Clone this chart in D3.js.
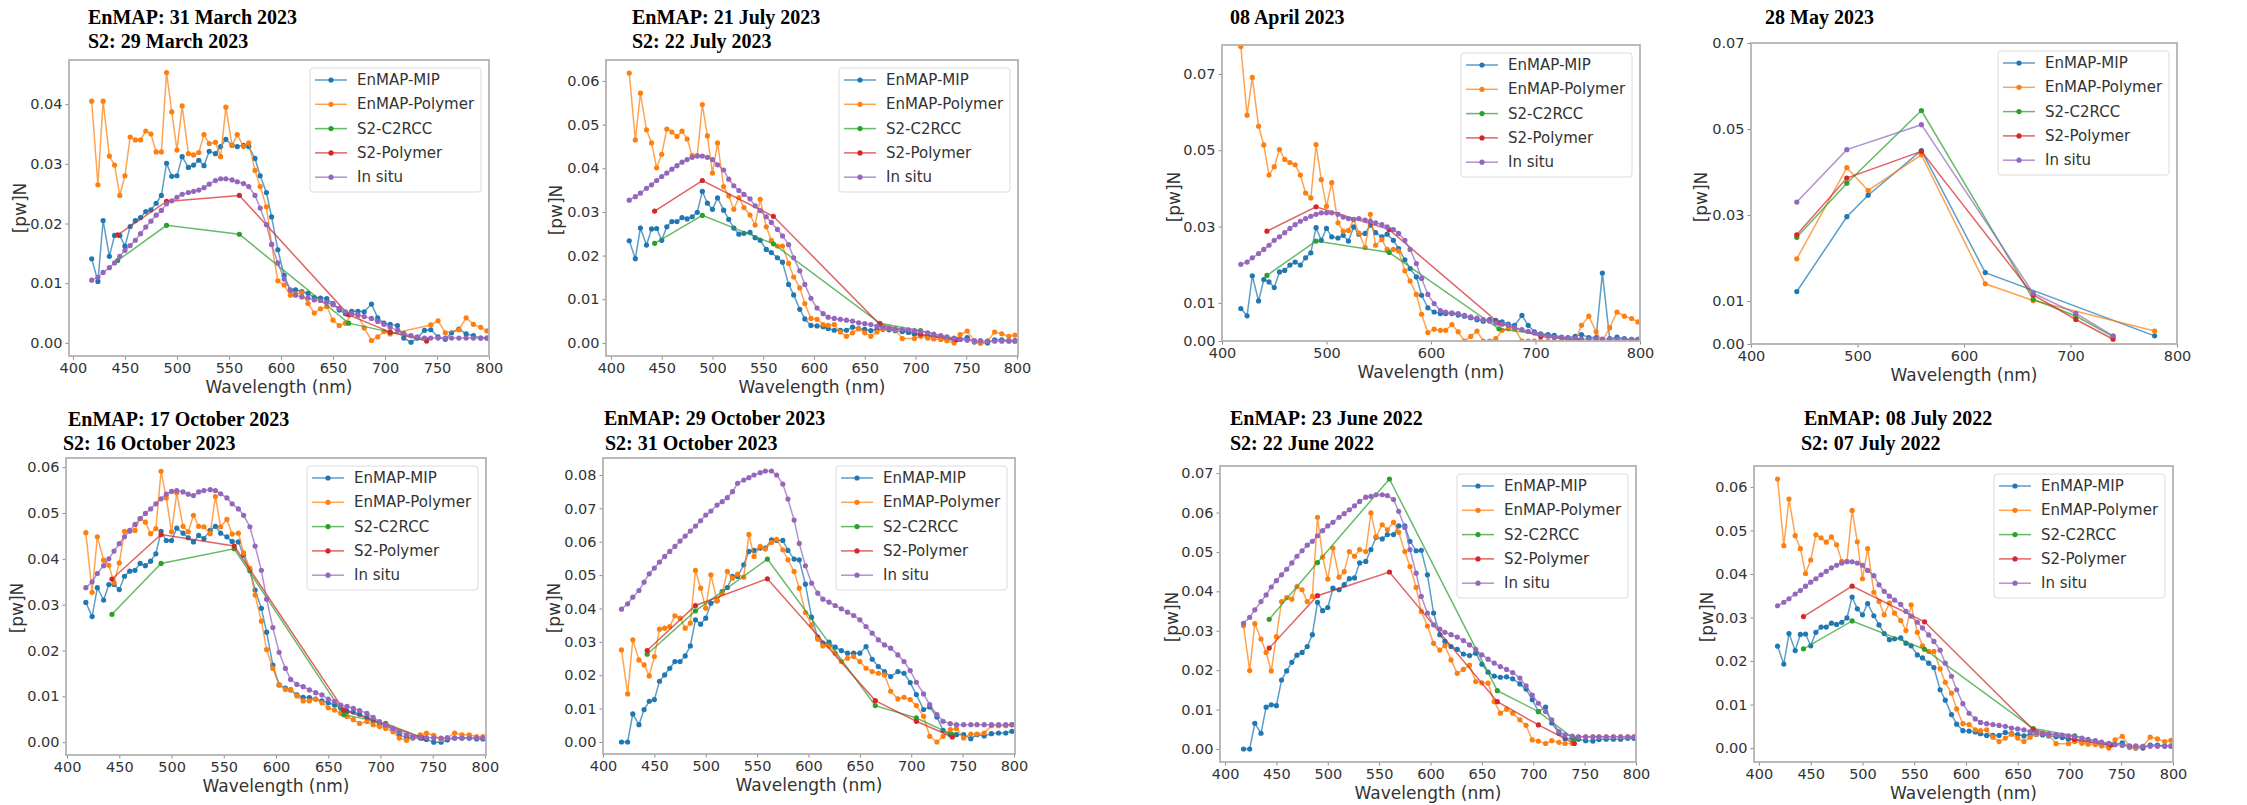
<!DOCTYPE html>
<html>
<head>
<meta charset="utf-8">
<title>Normalised water-leaving reflectance spectra</title>
<style>
    body { margin: 0; background: #fff; }
    svg { display: block; }
    .tick text { font-family: "DejaVu Sans", sans-serif; font-size: 14.5px; fill: #333; }
    .tick line { stroke: #8a8a8a; }
    .title { font-family: "Liberation Serif", serif; font-weight: bold; font-size: 20px; fill: #000; }
    .axis-label { font-family: "DejaVu Sans", sans-serif; font-size: 17px; fill: #333; }
    .legend text { font-family: "DejaVu Sans", sans-serif; font-size: 15px; fill: #333; }
</style>
</head>
<body>
<script src="https://cdn.jsdelivr.net/npm/d3@7"></script>
<script>
// band centres (nm)
var enmapWl = [418, 424, 429, 435, 440, 445, 450, 455, 460, 465,
    470, 475, 480, 485, 490, 495, 500, 505, 511, 516,
    521, 526, 531, 537, 542, 547, 553, 558, 564, 569,
    575, 580, 586, 591, 597, 603, 609, 614, 620, 626,
    632, 638, 644, 650, 656, 662, 668, 674, 680, 687,
    693, 699, 705, 712, 718, 725, 731, 738, 744, 751,
    758, 764, 771, 778, 785, 792, 798]
var s2Wl = [443, 490, 560, 665, 705, 740]
var olciWl = [443, 490, 510, 560, 620, 665, 779]

var seriesNames = ["EnMAP-MIP", "EnMAP-Polymer", "S2-C2RCC", "S2-Polymer", "In situ"]
var seriesColors = ["#1f77b4", "#ff7f0e", "#2ca02c", "#d62728", "#9467bd"]

var xTicks50 = [400, 450, 500, 550, 600, 650, 700, 750, 800]
var xTicks100 = [400, 500, 600, 700, 800]
var yTicks04 = [0, 0.01, 0.02, 0.03, 0.04]
var yTicks06 = [0, 0.01, 0.02, 0.03, 0.04, 0.05, 0.06]
var yTicks07 = [0, 0.01, 0.02, 0.03, 0.04, 0.05, 0.06, 0.07]
var yTicks08 = [0, 0.01, 0.02, 0.03, 0.04, 0.05, 0.06, 0.07, 0.08]
var yTicksOdd = [0, 0.01, 0.03, 0.05, 0.07]

// 31 March 2023
var mar31Mip = [.0141, .0103, .0205, .0145, .0180, .0180, .0162, .0195, .0205, .0210,
    .0220, .0223, .0234, .0247, .0301, .0279, .0280, .0312, .0294, .0298,
    .0306, .0297, .0321, .0317, .0329, .0341, .0331, .0329, .0331, .0329,
    .0309, .0280, .0252, .0211, .0156, .0113, .0088, .0089, .0086, .0083,
    .0076, .0075, .0074, .0066, .0055, .0049, .0053, .0053, .0052, .0065,
    .0042, .0033, .0031, .0029, .0008, .0001, .0008, .0021, .0022, .0010,
    .0006, .0017, .0023, .0015, .0012, .0008, .0008]
var mar31Polymer = [.0405, .0265, .0405, .0313, .0298, .0247, .0280, .0345, .0340, .0340,
    .0355, .0350, .0320, .0320, .0453, .0387, .0323, .0397, .0317, .0315,
    .0319, .0349, .0334, .0336, .0312, .0395, .0331, .0349, .0329, .0335,
    .0289, .0262, .0228, .0165, .0104, .0097, .0080, .0082, .0084, .0066,
    .0050, .0057, .0061, .0038, .0029, .0033, .0048, .0046, .0025, .0004,
    .0010, .0019, .0015, null, null, null, null, null, .0030, .0037,
    .0017, null, .0022, .0042, .0031, .0026, .0020]
var mar31C2rcc = [.0138, .0197, .0182, .0033, .0018, .0005]
var mar31S2Polymer = [.0181, .0237, .0247, .0047, .0018, .0003]
var mar31InSitu = [.0105, .0110, .0118, .0126, .0134, .0145, .0155, .0163, .0172, .0183,
    .0194, .0204, .0214, .0222, .0233, .0238, .0244, .0249, .0252, .0254,
    .0256, .0260, .0266, .0272, .0275, .0275, .0273, .0270, .0267, .0262,
    .0247, .0226, .0198, .0165, .0134, .0107, .0089, .0080, .0077, .0075,
    .0072, .0071, .0068, .0064, .0058, .0052, .0049, .0047, .0044, .0041,
    .0036, .0031, .0026, .0021, .0016, .0012, .0010, .0008, .0008, .0008,
    .0008, .0008, .0008, .0008, .0008, .0008, .0008]

// July scene (same spectra shown for 21/22 July 2023 and 08/07 July 2022)
var julMip = [.0234, .0193, .0263, .0224, .0261, .0262, .0235, .0266, .0278, .0278,
    .0287, .0284, .0289, .0299, .0347, .0320, .0306, .0332, .0304, .0283,
    .0263, .0249, .0251, .0253, .0241, .0235, .0214, .0207, .0195, .0185,
    .0134, .0110, .0077, .0055, .0040, .0039, .0037, .0033, .0029, .0029,
    .0029, .0036, .0033, .0031, .0028, .0031, .0031, .0030, .0028, .0026,
    .0024, .0020, .0018, .0016, .0014, .0011, .0008, .0007, .0008, .0012,
    .0002, .0000, .0000, .0007, .0007, .0005, .0005]
var julPolymer = [.0618, .0465, .0572, .0488, .0458, .0401, .0432, .0490, .0483, .0473,
    .0485, .0467, .0429, .0429, .0546, .0474, .0389, .0458, .0358, .0337,
    .0306, .0333, .0310, .0293, .0270, .0329, .0266, .0235, .0222, .0222,
    .0182, .0151, .0126, .0090, .0056, .0054, .0042, .0040, .0042, .0025,
    .0015, .0023, .0032, .0023, .0015, .0025, .0032, .0034, .0030, .0010,
    null, .0010, .0015, .0011, .0009, .0008, .0005, .0000, .0019, .0027,
    .0004, .0000, .0004, .0025, .0021, .0015, .0018]
var julC2rcc = [.0228, .0292, .0227, .0045, .0028, .0008]
var julS2Polymer = [.0302, .0372, .0290, .0042, .0020, .0007]
var julInSitu = [.0327, .0335, .0343, .0354, .0362, .0372, .0381, .0389, .0398, .0406,
    .0414, .0420, .0425, .0428, .0428, .0425, .0420, .0408, .0396, .0375,
    .0360, .0349, .0340, .0330, .0314, .0303, .0289, .0276, .0260, .0245,
    .0225, .0195, .0165, .0134, .0102, .0080, .0067, .0059, .0056, .0054,
    .0052, .0050, .0046, .0044, .0042, .0038, .0036, .0033, .0032, .0031,
    .0030, .0028, .0026, .0023, .0020, .0017, .0014, .0011, .0008, .0006,
    .0005, .0005, .0004, .0004, .0004, .0004, .0004]

// 08 April 2023
var apr08Mip = [.0085, .0066, .0171, .0105, .0161, .0155, .0140, .0181, .0185, .0199,
    .0207, .0199, .0218, .0231, .0297, .0264, .0295, .0273, .0270, .0277,
    .0262, .0299, .0280, .0282, .0304, .0284, .0273, .0280, .0264, .0242,
    .0213, .0190, .0168, .0120, .0087, .0076, .0072, .0072, .0072, .0068,
    .0065, .0061, .0056, .0052, .0056, .0054, .0050, .0044, .0041, .0067,
    .0041, .0024, .0019, .0017, .0015, .0010, .0009, .0012, .0017, .0009,
    .0009, .0178, .0006, .0010, .0006, .0004, .0004]
var apr08Polymer = [.0772, .0592, .0691, .0563, .0514, .0435, .0457, .0502, .0476, .0468,
    .0462, .0435, .0388, .0375, .0515, .0423, .0353, .0415, .0310, .0288,
    .0290, .0318, .0283, .0245, .0332, .0251, .0266, .0240, .0240, .0236,
    .0184, .0157, .0122, .0070, .0022, .0031, .0028, .0028, .0043, .0024,
    .0000, .0012, .0026, .0000, .0000, .0006, .0028, .0032, .0032, .0000,
    .0000, .0000, .0000, .0000, .0000, .0000, .0000, .0000, .0041, .0065,
    .0024, .0000, .0035, .0076, .0065, .0059, .0050]
var apr08C2rcc = [.0172, .0262, .0232, .0032, .0017, .0002]
var apr08S2Polymer = [.0288, .0352, .0292, .0047, .0012, .0002]
var apr08InSitu = [.0201, .0207, .0218, .0229, .0240, .0251, .0264, .0273, .0284, .0295,
    .0305, .0314, .0321, .0327, .0332, .0336, .0336, .0336, .0332, .0325,
    .0321, .0319, .0321, .0317, .0314, .0310, .0305, .0299, .0292, .0282,
    .0264, .0240, .0203, .0164, .0122, .0098, .0080, .0076, .0074, .0072,
    .0067, .0063, .0060, .0056, .0052, .0047, .0044, .0041, .0035, .0030,
    .0025, .0021, .0017, .0013, .0010, .0009, .0007, .0006, .0005, .0005,
    .0005, .0005, .0005, .0004, .0004, .0004, .0004]

// 28 May 2023
var may28Mip = [.0122, .0296, .0346, .0450, .0166, null, .0019]
var may28Polymer = [.0198, .0410, .0357, .0440, .0140, .0101, .0030]
var may28C2rcc = [.0248, .0374, .0543, .0104, .0065, .0017]
var may28S2Polymer = [.0254, .0386, .0448, .0114, .0057, .0011]
var may28InSitu = [.0330, .0452, .0510, .0118, .0071, .0019]

// 17/16 October 2023
var oct17Mip = [.0305, .0274, .0337, .0310, .0344, .0344, .0333, .0362, .0373, .0375,
    .0390, .0385, .0395, .0411, .0460, .0440, .0440, .0467, .0456, .0446,
    .0437, .0451, .0444, .0462, .0471, .0456, .0448, .0438, .0437, .0408,
    .0374, .0332, .0292, .0240, .0168, .0125, .0118, .0114, .0103, .0098,
    .0097, .0094, .0090, .0086, .0081, .0074, .0067, .0066, .0061, .0054,
    .0047, .0040, .0034, .0029, .0016, .0010, .0009, .0009, .0006, .0000,
    .0000, .0005, .0009, .0009, .0009, .0007, .0007]
var oct17Polymer = [.0457, .0327, .0448, .0397, .0386, .0348, .0391, .0460, .0460, .0462,
    .0488, .0480, .0455, .0466, .0591, .0533, .0459, .0544, .0471, .0459,
    .0495, .0471, .0470, .0455, .0536, .0470, .0486, .0454, .0456, .0413,
    .0379, .0321, .0264, .0202, .0161, .0125, .0115, .0115, .0101, .0090,
    .0090, .0094, .0086, .0075, .0070, .0063, .0056, .0049, .0041, .0045,
    .0038, .0034, .0030, .0023, .0009, .0004, .0010, .0016, .0020, .0015,
    .0006, .0010, .0020, .0016, .0016, .0012, .0012]
var oct17C2rcc = [.0279, .0390, .0422, .0060, .0041, .0010]
var oct17S2Polymer = [.0356, .0453, .0428, .0070, .0038, .0009]
var oct17InSitu = [.0337, .0350, .0368, .0385, .0400, .0417, .0433, .0448, .0462, .0475,
    .0488, .0499, .0509, .0520, .0531, .0541, .0547, .0549, .0546, .0541,
    .0538, .0546, .0549, .0551, .0549, .0542, .0533, .0520, .0509, .0495,
    .0470, .0428, .0375, .0312, .0250, .0196, .0161, .0137, .0126, .0121,
    .0114, .0108, .0103, .0094, .0089, .0081, .0078, .0074, .0069, .0063,
    .0054, .0045, .0038, .0030, .0023, .0016, .0012, .0011, .0010, .0009,
    .0009, .0009, .0009, .0009, .0009, .0009, .0009]

// 29/31 October 2023
var oct29Mip = [.0000, .0000, .0084, .0052, .0097, .0122, .0127, .0182, .0201, .0221,
    .0241, .0241, .0258, .0288, .0366, .0353, .0371, .0416, .0423, .0451,
    .0463, .0496, .0496, .0531, .0571, .0574, .0581, .0581, .0606, .0604,
    .0604, .0574, .0548, .0546, .0473, .0374, .0314, .0296, .0299, .0284,
    .0274, .0266, .0266, .0266, .0286, .0248, .0226, .0211, .0196, .0211,
    .0206, .0178, .0142, .0097, .0105, .0075, .0035, .0022, .0022, .0022,
    .0010, .0022, .0018, .0025, .0027, .0027, .0032]
var oct29Polymer = [.0276, .0144, .0306, .0246, .0231, .0198, .0256, .0338, .0341, .0346,
    .0378, .0371, .0341, .0356, .0514, .0461, .0401, .0501, .0423, .0446,
    .0511, .0491, .0503, .0494, .0622, .0556, .0586, .0578, .0598, .0607,
    .0576, .0546, .0511, .0461, .0388, .0351, .0308, .0288, .0288, .0266,
    .0241, .0251, .0256, .0241, .0221, .0211, .0206, .0201, .0152, .0129,
    .0134, .0127, .0109, .0077, .0017, .0000, .0017, .0037, .0040, .0012,
    .0024, .0024, .0027, .0049, .0049, .0049, .0052]
var oct29C2rcc = [.0263, .0393, .0548, .0109, .0072, .0022]
var oct29S2Polymer = [.0274, .0409, .0489, .0124, .0062, .0015]
var oct29InSitu = [.0398, .0414, .0434, .0454, .0479, .0504, .0521, .0539, .0556, .0571,
    .0586, .0602, .0617, .0632, .0647, .0663, .0680, .0692, .0710, .0720,
    .0732, .0750, .0775, .0785, .0792, .0800, .0807, .0812, .0812, .0800,
    .0773, .0728, .0665, .0595, .0528, .0476, .0446, .0428, .0419, .0409,
    .0399, .0389, .0379, .0366, .0346, .0326, .0306, .0291, .0281, .0261,
    .0241, .0214, .0179, .0144, .0112, .0082, .0062, .0055, .0052, .0052,
    .0052, .0052, .0052, .0052, .0052, .0052, .0052]

// 23/22 June 2022
var jun23Mip = [.0000, .0000, .0065, .0040, .0106, .0112, .0110, .0175, .0198, .0220,
    .0238, .0245, .0260, .0290, .0372, .0351, .0359, .0408, .0404, .0417,
    .0432, .0434, .0472, .0476, .0506, .0537, .0533, .0544, .0544, .0566,
    .0566, .0527, .0503, .0504, .0442, .0345, .0290, .0273, .0260, .0253,
    .0241, .0237, .0243, .0215, .0195, .0185, .0182, .0183, .0178, .0165,
    .0152, .0125, .0095, .0106, .0066, .0040, .0026, .0027, .0025, .0021,
    .0020, .0024, .0025, .0025, .0025, .0027, .0027]
var jun23Polymer = [.0313, .0199, .0318, .0279, .0245, .0198, .0285, .0374, .0384, .0380,
    .0412, .0404, .0374, .0387, .0588, .0487, .0431, .0510, .0436, .0450,
    .0501, .0489, .0506, .0501, .0599, .0539, .0569, .0556, .0575, .0550,
    .0501, .0463, .0410, .0349, .0312, .0268, .0251, .0262, .0226, .0192,
    .0202, .0213, .0171, .0168, .0167, .0120, .0091, .0101, .0091, .0074,
    .0060, .0023, .0020, .0014, .0021, .0017, .0014, .0014, .0031, .0031,
    .0031, .0031, .0031, .0031, .0031, .0031, .0031]
var jun23C2rcc = [.0329, .0473, .0685, .0148, .0095, .0025]
var jun23S2Polymer = [.0256, .0389, .0449, .0120, .0061, .0014]
var jun23InSitu = [.0319, .0334, .0353, .0374, .0391, .0411, .0427, .0442, .0456, .0472,
    .0489, .0503, .0517, .0527, .0541, .0554, .0566, .0575, .0588, .0597,
    .0607, .0617, .0628, .0639, .0641, .0645, .0645, .0643, .0633, .0603,
    .0562, .0506, .0446, .0387, .0345, .0315, .0304, .0296, .0290, .0284,
    .0275, .0264, .0253, .0239, .0228, .0218, .0209, .0202, .0194, .0180,
    .0160, .0137, .0116, .0095, .0074, .0044, .0036, .0033, .0031, .0031,
    .0031, .0031, .0031, .0031, .0031, .0031, .0031]

function pairs(wl, vals) {
    return wl.map((w, i) => [w, vals[i]]).filter(d => d[1] != null)
}

function enmapSet(mip, poly, c2rcc, s2poly, insitu) {
    return [pairs(enmapWl, mip), pairs(enmapWl, poly), pairs(s2Wl, c2rcc),
        pairs(s2Wl, s2poly), pairs(enmapWl, insitu)]
}

// layout of each sub-plot (pixel box of the axes, domains, titles)
var panels = [
    {
        id: "p1", box: {left: 69, top: 60, right: 489, bottom: 356},
        xDomain: [396.2, 800], yDomain: [-0.0022, 0.0474], xTicks: xTicks50, yTicks: yTicks04,
        title: [{text: "EnMAP: 31 March 2023", x: 88, y: 24}, {text: "S2: 29 March 2023", x: 88, y: 48}],
        ylab: [20, 208],
        series: enmapSet(mar31Mip, mar31Polymer, mar31C2rcc, mar31S2Polymer, mar31InSitu)
    },
    {
        id: "p2", box: {left: 606, top: 60, right: 1018, bottom: 356},
        xDomain: [395.1, 801], yDomain: [-0.003, 0.0648], xTicks: xTicks50, yTicks: yTicks06,
        title: [{text: "EnMAP: 21 July 2023", x: 632, y: 24}, {text: "S2: 22 July 2023", x: 632, y: 48}],
        ylab: [556, 210],
        series: enmapSet(julMip, julPolymer, julC2rcc, julS2Polymer, julInSitu)
    },
    {
        id: "p3", box: {left: 1222, top: 45, right: 1640, bottom: 341},
        xDomain: [400, 800], yDomain: [0, 0.0776], xTicks: xTicks100, yTicks: yTicksOdd,
        title: [{text: "08 April 2023", x: 1230, y: 24}],
        ylab: [1174, 197],
        series: enmapSet(apr08Mip, apr08Polymer, apr08C2rcc, apr08S2Polymer, apr08InSitu)
    },
    {
        id: "p4", box: {left: 1751, top: 43, right: 2177, bottom: 344},
        xDomain: [400, 800], yDomain: [0, 0.07], xTicks: xTicks100, yTicks: yTicksOdd,
        title: [{text: "28 May 2023", x: 1765, y: 24}],
        ylab: [1701, 197],
        series: [pairs(olciWl, may28Mip), pairs(olciWl, may28Polymer), pairs(s2Wl, may28C2rcc),
            pairs(s2Wl, may28S2Polymer), pairs(s2Wl, may28InSitu)]
    },
    {
        id: "p5", box: {left: 66, top: 458, right: 486, bottom: 755},
        xDomain: [399, 801], yDomain: [-0.0028, 0.062], xTicks: xTicks50, yTicks: yTicks06,
        title: [{text: "EnMAP: 17 October 2023", x: 68, y: 426}, {text: "S2: 16 October 2023", x: 63, y: 450}],
        ylab: [17, 608],
        series: enmapSet(oct17Mip, oct17Polymer, oct17C2rcc, oct17S2Polymer, oct17InSitu)
    },
    {
        id: "p6", box: {left: 603, top: 458, right: 1015, bottom: 754},
        xDomain: [400, 801], yDomain: [-0.0036, 0.0851], xTicks: xTicks50, yTicks: yTicks08,
        title: [{text: "EnMAP: 29 October 2023", x: 604, y: 425}, {text: "S2: 31 October 2023", x: 605, y: 450}],
        ylab: [554, 608],
        series: enmapSet(oct29Mip, oct29Polymer, oct29C2rcc, oct29S2Polymer, oct29InSitu)
    },
    {
        id: "p7", box: {left: 1220, top: 466, right: 1636, bottom: 762},
        xDomain: [395.1, 800], yDomain: [-0.0033, 0.0718], xTicks: xTicks50, yTicks: yTicks07,
        title: [{text: "EnMAP: 23 June 2022", x: 1230, y: 425}, {text: "S2: 22 June 2022", x: 1230, y: 450}],
        ylab: [1172, 617],
        series: enmapSet(jun23Mip, jun23Polymer, jun23C2rcc, jun23S2Polymer, jun23InSitu)
    },
    {
        id: "p8", box: {left: 1754, top: 466, right: 2173, bottom: 762},
        xDomain: [395.2, 800], yDomain: [-0.0032, 0.0648], xTicks: xTicks50, yTicks: yTicks06,
        title: [{text: "EnMAP: 08 July 2022", x: 1804, y: 425}, {text: "S2: 07 July 2022", x: 1801, y: 450}],
        ylab: [1707, 617],
        series: enmapSet(julMip, julPolymer, julC2rcc, julS2Polymer, julInSitu)
    }
]

var width = 2247, height = 805

var svg = d3.select("body").append("svg")
    .attr("width", width)
    .attr("height", height)
    .style("background", "#fff")

var defs = svg.append("defs")

panels.forEach(function (p) {
    var b = p.box
    var x = d3.scaleLinear().domain(p.xDomain).range([b.left, b.right])
    var y = d3.scaleLinear().domain(p.yDomain).range([b.bottom, b.top])

    defs.append("clipPath").attr("id", "clip-" + p.id)
        .append("rect")
        .attr("x", b.left).attr("y", b.top)
        .attr("width", b.right - b.left).attr("height", b.bottom - b.top)

    var g = svg.append("g").attr("class", "panel " + p.id)

    // titles
    g.selectAll("text.title")
        .data(p.title)
        .enter().append("text")
        .attr("class", "title")
        .attr("x", d => d.x)
        .attr("y", d => d.y)
        .text(d => d.text)

    // axes
    g.append("g")
        .attr("transform", `translate(0,${b.bottom})`)
        .call(d3.axisBottom(x).tickValues(p.xTicks).tickSize(3.5).tickPadding(3).tickFormat(d3.format("d")))
        .call(a => a.select(".domain").remove())

    g.append("g")
        .attr("transform", `translate(${b.left},0)`)
        .call(d3.axisLeft(y).tickValues(p.yTicks).tickSize(3.5).tickPadding(3).tickFormat(d3.format(".2f")))
        .call(a => a.select(".domain").remove())

    g.append("text")
        .attr("class", "axis-label")
        .attr("x", (b.left + b.right) / 2)
        .attr("y", b.bottom + 37)
        .attr("text-anchor", "middle")
        .text("Wavelength (nm)")

    g.append("text")
        .attr("class", "axis-label")
        .attr("text-anchor", "middle")
        .attr("dominant-baseline", "central")
        .attr("transform", `translate(${p.ylab[0]},${p.ylab[1]}) rotate(-90)`)
        .text("[pw]N")

    // spectra
    var plot = g.append("g").attr("clip-path", `url(#clip-${p.id})`)
    var line = d3.line().x(d => x(d[0])).y(d => y(d[1]))

    p.series.forEach(function (s, i) {
        plot.append("path")
            .datum(s)
            .attr("fill", "none")
            .attr("stroke", seriesColors[i])
            .attr("stroke-opacity", 0.72)
            .attr("stroke-width", 1.5)
            .attr("d", line)

        plot.selectAll(null)
            .data(s)
            .enter().append("circle")
            .attr("cx", d => x(d[0]))
            .attr("cy", d => y(d[1]))
            .attr("r", 2.6)
            .attr("fill", seriesColors[i])
    })

    // frame
    g.append("rect")
        .attr("x", b.left).attr("y", b.top)
        .attr("width", b.right - b.left).attr("height", b.bottom - b.top)
        .attr("fill", "none")
        .attr("stroke", "#b3b3b3")
        .attr("stroke-width", 1.8)

    // legend, upper right
    var lw = 171, lh = 124
    var legend = g.append("g")
        .attr("class", "legend")
        .attr("transform", `translate(${b.right - 8 - lw},${b.top + 8})`)

    legend.append("rect")
        .attr("width", lw).attr("height", lh)
        .attr("rx", 3)
        .attr("fill", "#fff").attr("fill-opacity", 0.85)
        .attr("stroke", "#dcdcdc")

    var rows = legend.selectAll("g.row")
        .data(seriesNames)
        .enter().append("g")
        .attr("class", "row")
        .attr("transform", (d, i) => `translate(0,${12 + i * 24.3})`)

    rows.append("line")
        .attr("x1", 5).attr("x2", 37)
        .attr("stroke", (d, i) => seriesColors[i])
        .attr("stroke-opacity", 0.72)
        .attr("stroke-width", 1.5)

    rows.append("circle")
        .attr("cx", 21).attr("r", 2.6)
        .attr("fill", (d, i) => seriesColors[i])

    rows.append("text")
        .attr("x", 47)
        .attr("dominant-baseline", "central")
        .text(d => d)
})
</script>
</body>
</html>
